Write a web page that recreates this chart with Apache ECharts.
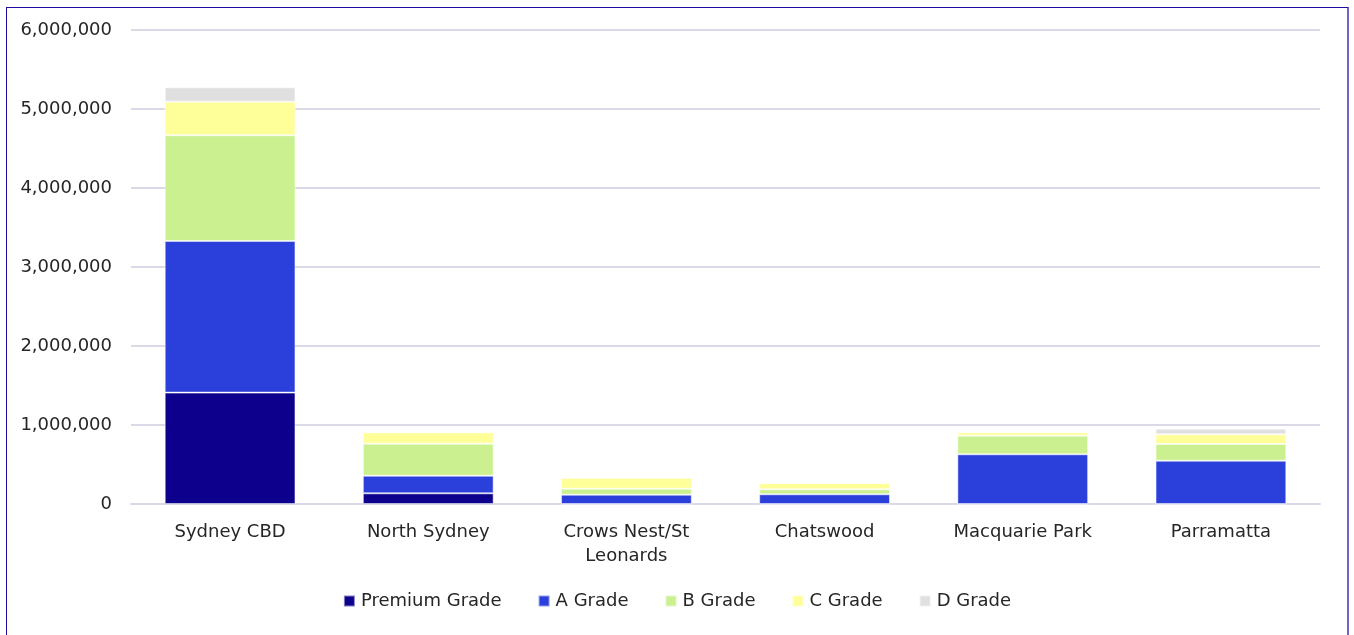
<!DOCTYPE html>
<html>
<head>
<meta charset="utf-8">
<script src="https://cdn.jsdelivr.net/npm/echarts@6/dist/echarts.min.js"></script>
<style>
  html, body { margin: 0; padding: 0; background: #ffffff; overflow: hidden; }
  #frame {
    position: absolute; left: 6px; top: 7px; width: 1343px; height: 640px;
    border: 1px solid #1c0ca0; border-right: 2px solid #6f63cc; box-sizing: border-box;
  }
  #chart { position: absolute; left: 0; top: 0; width: 1354px; height: 635px; }
</style>
</head>
<body>
<div id="frame"></div>
<div id="chart"></div>
<script>
// Office stock by market and grade (sqm)
const categories = ['Sydney CBD', 'North Sydney', 'Crows Nest/St\nLeonards', 'Chatswood', 'Macquarie Park', 'Parramatta'];
const gradeNames = ['Premium Grade', 'A Grade', 'B Grade', 'C Grade', 'D Grade'];
const premiumGrade = [1410000, 135000, 0, 0, 0, 0];
const aGrade       = [1920000, 223000, 118000, 123000, 629000, 548000];
const bGrade       = [1338000, 405000, 76000, 63000, 236000, 211000];
const cGrade       = [425000, 144000, 139000, 80000, 43000, 123000];
const dGrade       = [182000, 0, 0, 0, 0, 71000];
const yTicks = [0, 1000000, 2000000, 3000000, 4000000, 5000000, 6000000];

const gradeValues = [premiumGrade, aGrade, bGrade, cGrade, dGrade];
const gradeColors = ['#0c008c', '#2b3fdb', '#caf08f', '#ffff99', '#e0e0e0'];

const chart = echarts.init(document.getElementById('chart'));
const fontFamily = '"DejaVu Sans", "Open Sans", sans-serif';

chart.setOption({
  animation: false,
  textStyle: { fontFamily: fontFamily },
  grid: { left: 131, right: 34, top: 30, bottom: 131, containLabel: false },
  legend: {
    bottom: 20,
    left: 'center',
    itemWidth: 11,
    itemHeight: 11,
    itemGap: 36,
    icon: 'rect',
    textStyle: { fontSize: 18, color: '#262626', fontFamily: fontFamily, padding: [0, 0, 0, 1] },
    data: gradeNames
  },
  xAxis: {
    type: 'category',
    data: categories,
    axisLine: { show: true, lineStyle: { color: '#d9d9e8', width: 2 } },
    axisTick: { show: false },
    axisLabel: { fontSize: 18, color: '#262626', margin: 16, lineHeight: 24, interval: 0 }
  },
  yAxis: {
    type: 'value',
    min: yTicks[0],
    max: yTicks[yTicks.length - 1],
    interval: yTicks[1] - yTicks[0],
    axisLine: { show: false },
    axisTick: { show: false },
    splitLine: { lineStyle: { color: '#d9d9e8', width: 2 } },
    axisLabel: {
      fontSize: 18, color: '#262626', margin: 19,
      formatter: v => v.toLocaleString('en-US')
    }
  },
  series: gradeNames.map((name, i) => ({
    name: name,
    type: 'bar',
    stack: 'grades',
    barWidth: '66%',
    data: gradeValues[i],
    itemStyle: { color: gradeColors[i], borderColor: 'rgba(255,255,255,0.5)', borderWidth: 1 },
    emphasis: { disabled: true }
  }))
});
</script>
</body>
</html>
